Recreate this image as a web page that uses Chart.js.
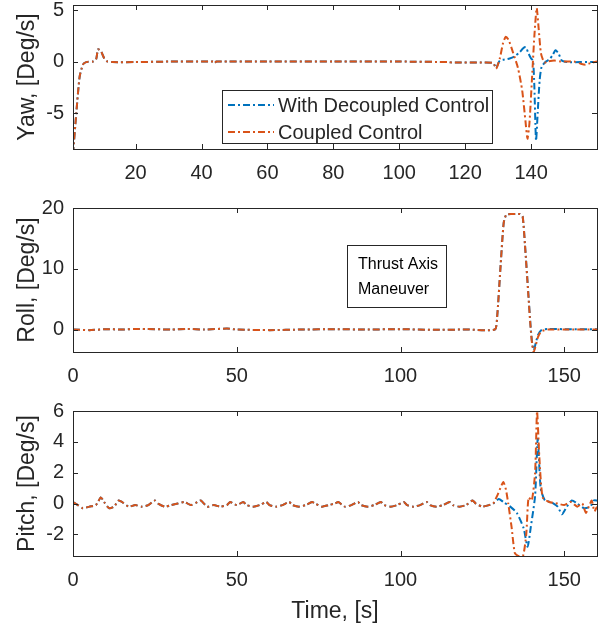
<!DOCTYPE html>
<html>
<head>
<meta charset="utf-8">
<script src="https://cdn.jsdelivr.net/npm/chart.js@4.4.1/dist/chart.umd.min.js"></script>
<style>
  html, body { margin: 0; padding: 0; background: #fff; }
  #wrap { position: relative; width: 603px; height: 628px; }
  .box { position: absolute; left: 0; width: 603px; }
</style>
</head>
<body>
<div id="wrap">
  <div class="box" style="top:0;height:190px"><canvas id="yawChart"></canvas></div>
  <div class="box" style="top:190px;height:200px"><canvas id="rollChart"></canvas></div>
  <div class="box" style="top:390px;height:238px"><canvas id="pitchChart"></canvas></div>
</div>
<script>
// ---- data ----
const seriesNames = ['With Decoupled Control', 'Coupled Control'];

// yaw rate, deg/s
const yawBaseT = [1, 2, 3, 4, 5, 7, 8, 8.6, 9.5, 10.5, 11.5, 13, 20, 30, 40, 43.5, 44, 44.5, 60, 80, 100, 115, 116, 117, 125, 128.5];
const yawBaseV = [-9, -5, -1.5, -0.3, -0.05, 0, 0.2, 1.2, 1.0, 0.3, 0, -0.05, -0.05, 0, 0, 0, -0.15, 0, 0, 0, 0, -0.05, -0.1, -0.1, -0.1, -0.15];
const yawCoupledT = yawBaseT.concat([129.4, 130.5, 131.5, 132.3, 133.2, 134.5, 136, 137.3, 138.3, 138.9, 139.5, 140.3, 141, 141.7, 142.3, 143, 144, 145, 147, 149, 153, 155, 156.5, 158, 160]);
const yawCoupledV = yawBaseV.concat([-0.7, 0.3, 1.8, 2.4, 2.1, 0.9, -0.6, -2.8, -5.8, -7.5, -6, -1.5, 2.5, 5.2, 3.2, 0.8, -0.1, 0, 0.1, 0, 0, -0.2, -0.3, -0.15, 0]);
const yawDecoupledT = yawBaseT.concat([129.4, 130.5, 132, 133.5, 135, 136.5, 137.6, 138.4, 139.2, 140, 140.6, 141, 141.5, 142, 142.6, 143.2, 144.5, 145.5, 146.5, 147.4, 148.3, 149.3, 151, 155, 160]);
const yawDecoupledV = yawBaseV.concat([-0.6, 0.1, 0.2, 0.3, 0.5, 0.9, 1.3, 1.4, 0.8, 0.3, 0.1, -2.5, -7.7, -5, -1.8, -0.5, 0, 0.2, 0.6, 1.1, 0.8, 0.1, -0.05, -0.05, -0.05]);

// roll rate, deg/s
const rollBaseT = [0, 5, 10, 15, 20, 30, 35, 40, 47, 50, 60, 70, 80, 90, 100, 110, 120, 128.8];
const rollBaseV = [0, -0.1, 0.05, 0, 0.1, 0, 0.1, 0, 0.15, 0, -0.1, 0, 0.05, 0, 0.05, -0.05, 0, 0];
const rollCoupledT = rollBaseT.concat([129.5, 130.5, 131.5, 132.3, 134, 136.5, 137.3, 138, 139, 139.7, 140.2, 140.7, 141.3, 142, 143, 145, 150, 160]);
const rollCoupledV = rollBaseV.concat([2, 10, 17.5, 18.9, 19, 19, 18.6, 14, 6, 0.5, -2.5, -3.7, -2.6, -1.2, -0.3, 0, 0, 0]);
const rollDecoupledT = rollBaseT.concat([129.5, 130.5, 131.5, 132.3, 134, 136.5, 137.3, 138, 139, 139.7, 140.2, 140.7, 141.3, 142, 143, 145, 150, 160]);
const rollDecoupledV = rollBaseV.concat([2, 10, 17.5, 18.9, 19, 19, 18.6, 14, 6.2, 0.7, -2.2, -3.4, -2.2, -0.9, -0.1, 0.1, 0.05, 0.05]);

// pitch rate, deg/s
const pitchBaseT = [0, 1.5, 3, 5, 7, 8.5, 9.5, 11, 12.5, 14, 15, 17, 19, 21, 23, 25, 26, 28, 30, 32, 34, 36, 38, 39, 41, 43, 45, 47, 48, 50, 52, 53, 55, 57, 59, 60, 62, 64, 66, 67, 69, 71, 73, 74, 76, 78, 80, 81, 83, 85, 87, 88, 90, 92, 94, 95, 97, 99, 101, 102, 104, 106, 108, 109, 111, 113, 115, 116, 118, 120, 122, 123, 125, 127, 128.3];
const pitchBaseV = [0.1, -0.1, -0.3, -0.2, -0.1, 0.4, 0.1, -0.3, -0.2, 0.2, 0.1, -0.2, -0.1, -0.2, -0.1, 0.2, 0, -0.2, -0.1, 0, 0.1, -0.1, 0.1, 0.2, -0.2, -0.1, -0.2, -0.1, 0.1, -0.1, 0.1, -0.1, -0.2, -0.1, 0.1, -0.1, -0.2, -0.1, 0.1, -0.1, -0.2, -0.1, 0.1, 0, -0.2, -0.1, 0, 0.1, -0.2, -0.1, 0.1, -0.1, -0.2, -0.1, 0.1, -0.1, -0.2, -0.1, 0.1, -0.1, -0.2, -0.1, 0.1, -0.1, -0.2, -0.1, 0.1, -0.1, -0.2, -0.1, 0.2, 0, -0.2, -0.1, 0];
const pitchCoupledT = pitchBaseT.concat([129.5, 130.5, 131.4, 132.2, 132.9, 133.9, 134.9, 136, 137.4, 138.4, 139.1, 140.1, 141.1, 141.7, 142.4, 143.4, 145.4, 148, 150, 152, 154, 155.5, 156.6, 157.5, 158.4, 159.2, 160]);
const pitchCoupledV = pitchBaseV.concat([0.5, 1.0, 1.4, 0.9, 0, -1.5, -3.2, -3.4, -3.4, -2, 0.4, 0.2, 2, 6, 3, 0.4, 0.1, 0, -0.1, 0.1, -0.2, 0, -0.6, -0.2, 0.2, -0.5, -0.2]);
const pitchDecoupledT = pitchBaseT.concat([130, 131.4, 133.5, 135.5, 137.6, 138.8, 139.8, 141.1, 141.9, 142.8, 144.1, 146, 148, 149.3, 150.8, 152.3, 154, 156, 158, 159, 160]);
const pitchDecoupledV = pitchBaseV.concat([0.3, 0.1, -0.2, -0.6, -1.6, -2.8, -1.5, 0.5, 4.2, 1, 0.2, 0.1, -0.2, -0.7, -0.2, 0.2, 0, -0.3, -0.2, 0.2, 0.2]);

// tick values
const yawXTicks = [20, 40, 60, 80, 100, 120, 140];
const yawYTicks = [-5, 0, 5];
const timeTicks = [0, 50, 100, 150];
const rollYTicks = [0, 10, 20];
const pitchYTicks = [-2, 0, 2, 4, 6];

// ---- styling ----
const BLUE = '#0072BD';
const ORANGE = '#D95319';
const AXIS = '#262626';
const FONT = 'Liberation Sans, Arial, Helvetica, sans-serif';
const DASH = [7, 3, 2, 3];

function pts(t, v) {
    return t.map((x, i) => ({ x: x, y: v[i] }));
}

// box around the plot with inward ticks (matlab style)
const boxPlugin = {
    id: 'matlabBox',
    afterDraw(chart) {
        const { ctx, chartArea: a, scales } = chart;
        ctx.save();
        ctx.strokeStyle = AXIS;
        ctx.lineWidth = 1;
        ctx.strokeRect(Math.round(a.left) + 0.5, Math.round(a.top) + 0.5,
            Math.round(a.right - a.left), Math.round(a.bottom - a.top));
        const len = 5;
        ctx.beginPath();
        scales.x.ticks.forEach(t => {
            const px = Math.round(scales.x.getPixelForValue(t.value)) + 0.5;
            if (px <= a.left + 1 || px >= a.right - 1) return;
            ctx.moveTo(px, a.bottom); ctx.lineTo(px, a.bottom - len);
            ctx.moveTo(px, a.top); ctx.lineTo(px, a.top + len);
        });
        scales.y.ticks.forEach(t => {
            const py = Math.round(scales.y.getPixelForValue(t.value)) + 0.5;
            if (py <= a.top + 1 || py >= a.bottom - 1) return;
            ctx.moveTo(a.left, py); ctx.lineTo(a.left + len, py);
            ctx.moveTo(a.right, py); ctx.lineTo(a.right - len, py);
        });
        ctx.stroke();

        const opts = chart.options.plugins.matlabBox || {};
        if (opts.legend) drawLegend(chart, opts.legend);
        if (opts.note) drawNote(chart, opts.note);
        ctx.restore();
    }
};

function drawLegend(chart, box) {
    const ctx = chart.ctx;
    ctx.save();
    ctx.fillStyle = '#fff';
    ctx.fillRect(box.x, box.y, box.w, box.h);
    ctx.strokeStyle = AXIS;
    ctx.lineWidth = 1;
    ctx.strokeRect(box.x + 0.5, box.y + 0.5, box.w, box.h);
    const colors = [BLUE, ORANGE];
    ctx.font = '20px ' + FONT;
    ctx.textBaseline = 'middle';
    seriesNames.forEach((name, i) => {
        const y = box.y + 15 + i * 27;
        ctx.strokeStyle = colors[i];
        ctx.lineWidth = 2;
        ctx.setLineDash(DASH);
        ctx.beginPath();
        ctx.moveTo(box.x + 6, y);
        ctx.lineTo(box.x + 52, y);
        ctx.stroke();
        ctx.setLineDash([]);
        ctx.fillStyle = AXIS;
        ctx.fillText(name, box.x + 56, y + 1);
    });
    ctx.restore();
}

function drawNote(chart, note) {
    const ctx = chart.ctx;
    ctx.save();
    ctx.fillStyle = '#fff';
    ctx.fillRect(note.x, note.y, note.w, note.h);
    ctx.strokeStyle = AXIS;
    ctx.lineWidth = 1;
    ctx.strokeRect(note.x + 0.5, note.y + 0.5, note.w, note.h);
    ctx.fillStyle = '#000';
    ctx.font = '16px ' + FONT;
    ctx.textBaseline = 'middle';
    note.lines.forEach((s, i) => ctx.fillText(s, note.x + 11, note.y + 20 + i * 25));
    ctx.restore();
}

function makeChart(id, cfg) {
    const ctx = document.getElementById(id);
    const xHeight = cfg.height - cfg.plotBottom;
    return new Chart(ctx, {
        type: 'line',
        data: {
            datasets: [
                {   // coupled drawn on top
                    label: seriesNames[1],
                    data: pts(cfg.coupled[0], cfg.coupled[1]),
                    borderColor: ORANGE,
                    borderWidth: 2,
                    borderDash: DASH,
                    pointRadius: 0,
                    tension: 0.2,
                    fill: false
                },
                {
                    label: seriesNames[0],
                    data: pts(cfg.decoupled[0], cfg.decoupled[1]),
                    borderColor: BLUE,
                    borderWidth: 2,
                    borderDash: DASH,
                    pointRadius: 0,
                    tension: 0.2,
                    fill: false
                }
            ]
        },
        options: {
            responsive: true,
            maintainAspectRatio: false,
            animation: false,
            events: [],
            layout: { padding: { top: cfg.plotTop, right: 6, left: 0, bottom: 0 } },
            plugins: {
                legend: { display: false },
                tooltip: { enabled: false },
                matlabBox: { legend: cfg.legend, note: cfg.note }
            },
            scales: {
                x: {
                    type: 'linear',
                    min: cfg.xMin,
                    max: cfg.xMax,
                    grid: { display: false, drawTicks: false },
                    border: { display: false },
                    ticks: {
                        color: AXIS,
                        font: { family: FONT, size: 20 },
                        padding: 12,
                        maxRotation: 0
                    },
                    afterBuildTicks: s => { s.ticks = cfg.xTicks.map(v => ({ value: v })); },
                    title: cfg.xTitle ? {
                        display: true,
                        text: cfg.xTitle,
                        color: AXIS,
                        font: { family: FONT, size: 23 },
                        padding: { top: 0, bottom: 3 }
                    } : { display: false },
                    afterFit: s => { s.height = xHeight; s.paddingLeft = 0; s.paddingRight = 0; }
                },
                y: {
                    min: cfg.yMin,
                    max: cfg.yMax,
                    grid: { display: false, drawTicks: false },
                    border: { display: false },
                    ticks: {
                        color: AXIS,
                        font: { family: FONT, size: 20 },
                        padding: 9
                    },
                    afterBuildTicks: s => { s.ticks = cfg.yTicks.map(v => ({ value: v })); },
                    title: {
                        display: true,
                        text: cfg.yTitle,
                        color: AXIS,
                        font: { family: FONT, size: 23 },
                        padding: { top: 14, bottom: 0 }
                    },
                    afterFit: s => { s.width = 73; s.paddingTop = 0; s.paddingBottom = 0; }
                }
            }
        },
        plugins: [boxPlugin]
    });
}

makeChart('yawChart', {
    height: 190, plotTop: 5, plotBottom: 149,
    xMin: 1, xMax: 160, yMin: -8.5, yMax: 5.5,
    xTicks: yawXTicks, yTicks: yawYTicks,
    yTitle: 'Yaw, [Deg/s]',
    coupled: [yawCoupledT, yawCoupledV],
    decoupled: [yawDecoupledT, yawDecoupledV],
    legend: { x: 222, y: 90, w: 270, h: 53 }
});

makeChart('rollChart', {
    height: 200, plotTop: 18, plotBottom: 162,
    xMin: 0, xMax: 160, yMin: -3.7, yMax: 20,
    xTicks: timeTicks, yTicks: rollYTicks,
    yTitle: 'Roll, [Deg/s]',
    coupled: [rollCoupledT, rollCoupledV],
    decoupled: [rollDecoupledT, rollDecoupledV],
    note: { x: 347, y: 55, w: 99, h: 62, lines: ['Thrust Axis', 'Maneuver'] }
});

makeChart('pitchChart', {
    height: 238, plotTop: 21, plotBottom: 166,
    xMin: 0, xMax: 160, yMin: -3.4, yMax: 6,
    xTicks: timeTicks, yTicks: pitchYTicks,
    yTitle: 'Pitch, [Deg/s]',
    xTitle: 'Time, [s]',
    coupled: [pitchCoupledT, pitchCoupledV],
    decoupled: [pitchDecoupledT, pitchDecoupledV]
});
</script>
</body>
</html>
